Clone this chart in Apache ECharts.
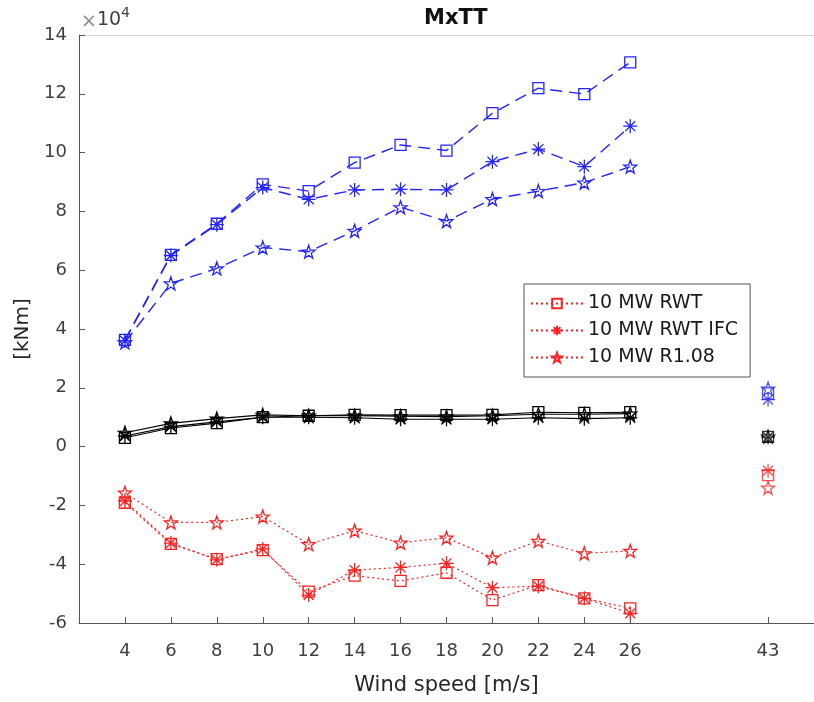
<!DOCTYPE html>
<html>
<head>
<meta charset="utf-8">
<script src="https://cdn.jsdelivr.net/npm/echarts@6/dist/echarts.min.js"></script>
<style>
  html, body { margin: 0; padding: 0; background: #fff; }
  #chart { width: 814px; height: 702px; }
</style>
</head>
<body>
<div id="chart"></div>
<script>
// Wind speeds of the power-production cases
const windSpeeds = [4, 6, 8, 10, 12, 14, 16, 18, 20, 22, 24, 26];
// Parked / extreme case, shown after a gap on the axis
const parkedSpeedLabel = '43';
const parkedAxisPos = 32;
const xTickPositions = [4, 6, 8, 10, 12, 14, 16, 18, 20, 22, 24, 26, 32];
const yTicks = [-6, -4, -2, 0, 2, 4, 6, 8, 10, 12, 14];
const seriesNames = ['10 MW RWT', '10 MW RWT IFC', '10 MW R1.08'];

// Tower-top moment MxTT [kNm], maxima
const rwtMax  = [36300, 65200, 75800, 89200, 86900, 96600, 102600, 100700, 113400, 121900, 119900, 130700];
const ifcMax  = [36000, 65000, 75500, 88100, 84100, 87300, 87500, 87300, 96900, 101200, 95200, 109000];
const r108Max = [35500, 55500, 60600, 67700, 66300, 73400, 81400, 76700, 84200, 86900, 89800, 95200];
// means
const rwtMean  = [3000, 6300, 8000, 10000, 10500, 10800, 10700, 10700, 10800, 11700, 11500, 11700];
const ifcMean  = [3600, 6800, 8400, 10000, 10000, 9800, 9300, 9300, 9300, 9800, 9500, 9800];
const r108Mean = [4700, 7900, 9500, 10800, 10500, 10500, 10300, 10200, 10500, 11000, 11000, 11200];
// minima
const rwtMin  = [-19100, -33100, -38300, -35200, -49300, -43900, -45700, -42900, -52200, -47100, -51600, -55000];
const ifcMin  = [-18500, -32800, -38500, -34800, -50500, -42000, -41100, -39700, -48000, -47500, -51600, -56700];
const r108Min = [-15700, -25800, -25800, -23800, -33200, -28600, -32700, -31000, -37800, -32100, -36300, -35500];
// parked case: [max, mean, min] for each turbine
const rwtParked  = [18100, 3300, -9700];
const ifcParked  = [16000, 3200, -8200];
const r108Parked = [19700, 3400, -14000];

const FONT = 'DejaVu Sans';
const BLUE = '#2424ff';
const RED = '#ff2020';
const BLACK = '#000000';

const SYM_STAR = 'path://M0,-10L2.35,-3.24L9.51,-3.09L3.8,1.24L5.88,8.09L0,4L-5.88,8.09L-3.8,1.24L-9.51,-3.09L-2.35,-3.24Z';
const SYM_AST = 'path://M0,-10L0,10M-10,0L10,0M-7.07,-7.07L7.07,7.07M-7.07,7.07L7.07,-7.07';
const SYM_SQ = 'rect';
const symbols = [SYM_SQ, SYM_AST, SYM_STAR];
const symbolSizes = [11, 14, 13];

function pairs(vals) { return windSpeeds.map((w, i) => [w, vals[i]]); }

function lineSeries(name, vals, k, color, lineType, width) {
  return {
    name: name,
    type: 'line',
    data: pairs(vals),
    symbol: symbols[k],
    symbolSize: symbolSizes[k],
    showSymbol: true,
    itemStyle: { color: 'none', borderColor: color, borderWidth: 1.3 },
    lineStyle: { color: color, type: lineType, width: width },
    emphasis: { disabled: true },
    z: 2
  };
}

function parkedSeries(name, value, k, color) {
  return {
    name: name,
    type: 'scatter',
    data: [[parkedAxisPos, value]],
    symbol: symbols[k],
    symbolSize: symbolSizes[k],
    itemStyle: { color: 'none', borderColor: color, borderWidth: 1.3 },
    emphasis: { disabled: true },
    z: 3
  };
}

const maxSets = [rwtMax, ifcMax, r108Max];
const meanSets = [rwtMean, ifcMean, r108Mean];
const minSets = [rwtMin, ifcMin, r108Min];
const parkedSets = [rwtParked, ifcParked, r108Parked];

const series = [];
for (let k = 0; k < 3; k++) {
  series.push(lineSeries('max ' + seriesNames[k], maxSets[k], k, BLUE, [12, 7], 1.4));
}
for (let k = 0; k < 3; k++) {
  series.push(lineSeries('mean ' + seriesNames[k], meanSets[k], k, BLACK, 'solid', 1.1));
}
for (let k = 0; k < 3; k++) {
  series.push(lineSeries(seriesNames[k], minSets[k], k, RED, [2, 3], 1.2));
}
for (let k = 0; k < 3; k++) {
  series.push(parkedSeries('parked max ' + seriesNames[k], parkedSets[k][0], k, BLUE));
  series.push(parkedSeries('parked mean ' + seriesNames[k], parkedSets[k][1], k, BLACK));
  series.push(parkedSeries('parked min ' + seriesNames[k], parkedSets[k][2], k, RED));
}

const chart = echarts.init(document.getElementById('chart'), null, { renderer: 'canvas' });
chart.setOption({
  animation: false,
  backgroundColor: '#ffffff',
  title: {
    text: 'MxTT',
    left: 419,
    top: 3,
    textStyle: { fontFamily: FONT, fontSize: 21, fontWeight: 'bold', color: '#111' }
  },
  grid: { left: 79, right: -11, top: 35, bottom: 79 },
  legend: {
    data: seriesNames,
    orient: 'vertical',
    left: 524,
    top: 284,
    itemWidth: 52,
    itemHeight: 12,
    itemGap: 8,
    padding: [10, 12, 10, 6],
    borderColor: '#555',
    borderWidth: 1,
    backgroundColor: '#fff',
    textStyle: { fontFamily: FONT, fontSize: 19, color: '#1a1a1a' }
  },
  xAxis: [{
    type: 'value',
    min: 2,
    max: 34,
    interval: 2,
    name: 'Wind speed [m/s]',
    nameLocation: 'middle',
    nameGap: 52,
    nameTextStyle: { fontFamily: FONT, fontSize: 21, color: '#262626' },
    axisLine: { onZero: false, lineStyle: { color: '#555', width: 1 } },
    axisTick: { inside: true, length: 6, customValues: xTickPositions, lineStyle: { color: '#555' } },
    axisLabel: {
      customValues: xTickPositions,
      margin: 19,
      fontFamily: FONT, fontSize: 18, color: '#404040',
      formatter: v => (v === parkedAxisPos ? parkedSpeedLabel : String(v))
    },
    splitLine: { show: false }
  }, {
    type: 'value',
    position: 'top',
    min: 2,
    max: 34,
    axisLine: { show: true, onZero: false, lineStyle: { color: '#d9d9d9', width: 1 } },
    axisTick: { show: false },
    axisLabel: { show: false },
    splitLine: { show: false }
  }],
  yAxis: {
    type: 'value',
    min: yTicks[0] * 1e4,
    max: yTicks[yTicks.length - 1] * 1e4,
    interval: 2e4,
    name: '[kNm]',
    nameLocation: 'middle',
    nameGap: 42,
    nameTextStyle: { fontFamily: FONT, fontSize: 20, color: '#262626' },
    axisLine: { show: true, lineStyle: { color: '#555', width: 1 } },
    axisTick: { show: true, inside: true, length: 6, lineStyle: { color: '#555' } },
    axisLabel: {
      margin: 12,
      fontFamily: FONT, fontSize: 18, color: '#404040',
      formatter: v => String(Math.round(v / 1e4))
    },
    splitLine: { show: false }
  },
  graphic: [
    { type: 'text', left: 81, top: 13, style: { text: '×', fontFamily: FONT, fontSize: 19, fill: '#8c8c8c' } },
    { type: 'text', left: 97, top: 11, style: { text: '10', fontFamily: FONT, fontSize: 19, fill: '#404040' } },
    { type: 'text', left: 121, top: 6, style: { text: '4', fontFamily: FONT, fontSize: 14, fill: '#404040' } }
  ],
  series: series
});
</script>
</body>
</html>
